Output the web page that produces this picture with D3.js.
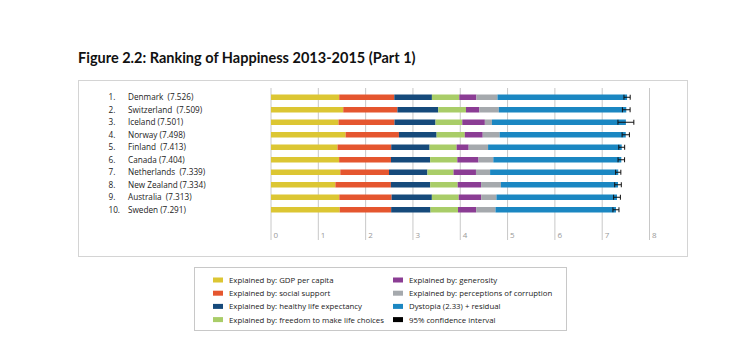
<!DOCTYPE html>
<html>
<head>
<meta charset="utf-8">
<script src="https://cdnjs.cloudflare.com/ajax/libs/d3/7.8.5/d3.min.js"></script>
<style>
  body { margin: 0; background: #fff; }
  svg { display: block; font-family: "Open Sans", Lato, sans-serif; }
</style>
</head>
<body>
<div id="chart"></div>
<script>
// data (World Happiness Report 2016, fig 2.2 part 1)
var countries = ["Denmark", "Switzerland", "Iceland", "Norway", "Finland",
                 "Canada", "Netherlands", "New Zealand", "Australia", "Sweden"];
var scores = [7.526, 7.509, 7.501, 7.498, 7.413, 7.404, 7.339, 7.334, 7.313, 7.291];
var gdp = [1.442, 1.527, 1.427, 1.577, 1.406, 1.440, 1.465, 1.361, 1.444, 1.452];
var social = [1.164, 1.145, 1.183, 1.127, 1.135, 1.096, 1.029, 1.173, 1.105, 1.088];
var health = [0.795, 0.863, 0.867, 0.796, 0.811, 0.828, 0.812, 0.831, 0.851, 0.831];
var freedom = [0.579, 0.586, 0.566, 0.596, 0.571, 0.574, 0.552, 0.581, 0.568, 0.582];
var generosity = [0.362, 0.281, 0.477, 0.379, 0.255, 0.448, 0.474, 0.494, 0.474, 0.383];
var corruption = [0.445, 0.412, 0.150, 0.358, 0.410, 0.313, 0.299, 0.419, 0.323, 0.409];
var ciLow = [7.460, 7.428, 7.333, 7.421, 7.351, 7.335, 7.284, 7.264, 7.241, 7.227];
var ciHigh = [7.592, 7.590, 7.669, 7.575, 7.475, 7.473, 7.394, 7.404, 7.385, 7.355];
var ticks = [0, 1, 2, 3, 4, 5, 6, 7, 8];
// gap between name and score as printed (some have two spaces)
var gaps = ["  ", "  ", " ", " ", "  ", " ", "  ", " ", "  ", " "];

var seriesNames = ["Explained by: GDP per capita", "Explained by: social support",
  "Explained by: healthy life expectancy", "Explained by: freedom to make life choices",
  "Explained by: generosity", "Explained by: perceptions of corruption",
  "Dystopia (2.33) + residual", "95% confidence interval"];
var colors = ["#dcc633", "#e5562f", "#164a7b", "#a9cd68", "#8b3d94", "#a5a9ad", "#1b87c2", "#000"];

var width = 751, height = 362;

var svg = d3.select("#chart").append("svg")
    .attr("width", width)
    .attr("height", height);

// title
svg.append("text")
    .attr("x", 78)
    .attr("y", 63)
    .style("font-family", "Lato, sans-serif")
    .style("font-size", "14.5px")
    .style("font-weight", "700")
    .style("fill", "#111")
    .text("Figure 2.2: Ranking of Happiness 2013-2015 (Part 1)");

// chart frame
svg.append("rect")
    .attr("x", 78.5).attr("y", 80.5)
    .attr("width", 609).attr("height", 176)
    .style("fill", "none")
    .style("stroke", "#d4d4d4");

var x = d3.scaleLinear().domain([0, 8]).range([271, 649.5]);
var y = d3.scaleBand().domain(d3.range(countries.length)).range([91, 216]);

// grid + ticks
var grid = svg.append("g");
grid.selectAll("line")
    .data(ticks)
    .enter()
    .append("line")
    .attr("x1", d => x(d)).attr("x2", d => x(d))
    .attr("y1", 88).attr("y2", 240)
    .style("stroke", "#c8c8c8")
    .style("stroke-width", 1);
grid.selectAll("text")
    .data(ticks)
    .enter()
    .append("text")
    .attr("x", d => x(d) + 2.5)
    .attr("y", 238)
    .style("font-size", "8px")
    .style("fill", "#999")
    .text(d => d);

// stacked bars
var rows = countries.map(function(c, i) {
    var parts = [gdp[i], social[i], health[i], freedom[i], generosity[i], corruption[i]];
    var rest = scores[i] - d3.sum(parts);
    parts.push(rest);
    var acc = 0;
    return parts.map(function(v, k) {
        var seg = { row: i, k: k, x0: acc, x1: acc + v };
        acc += v;
        return seg;
    });
});

var barH = 5.5;
svg.append("g")
    .selectAll("rect")
    .data(rows.flat())
    .enter()
    .append("rect")
    .attr("x", d => x(d.x0))
    .attr("width", d => x(d.x1) - x(d.x0))
    .attr("y", d => y(d.row) + y.bandwidth() / 2 - barH / 2)
    .attr("height", barH)
    .style("fill", d => colors[d.k]);

// confidence intervals
var ci = svg.append("g").selectAll("g")
    .data(countries)
    .enter()
    .append("g")
    .attr("transform", (d, i) => "translate(0," + (y(i) + y.bandwidth() / 2) + ")");
ci.append("line")
    .attr("x1", (d, i) => x(ciLow[i])).attr("x2", (d, i) => x(ciHigh[i]))
    .attr("y1", 0).attr("y2", 0)
    .style("stroke", "#111").style("stroke-width", 1);
ci.append("line")
    .attr("x1", (d, i) => x(ciLow[i])).attr("x2", (d, i) => x(ciLow[i]))
    .attr("y1", -2.5).attr("y2", 2.5)
    .style("stroke", "#111").style("stroke-width", 1);
ci.append("line")
    .attr("x1", (d, i) => x(ciHigh[i])).attr("x2", (d, i) => x(ciHigh[i]))
    .attr("y1", -2.5).attr("y2", 2.5)
    .style("stroke", "#111").style("stroke-width", 1);

// row labels
var labels = svg.append("g").selectAll("g")
    .data(countries)
    .enter()
    .append("g")
    .attr("transform", (d, i) => "translate(0," + (y(i) + y.bandwidth() / 2 + 3) + ")")
    .style("font-size", "8.2px")
    .style("fill", "#222");
labels.append("text")
    .attr("x", 108.5)
    .text((d, i) => (i + 1) + ".");
labels.append("text")
    .attr("x", 128)
    .style("white-space", "pre")
    .text((d, i) => d + gaps[i] + "(" + scores[i].toFixed(3) + ")");

// legend
svg.append("rect")
    .attr("x", 194.5).attr("y", 267.5)
    .attr("width", 372).attr("height", 63)
    .style("fill", "none")
    .style("stroke", "#c8c8c8");

var leg = svg.append("g").selectAll("g")
    .data(seriesNames)
    .enter()
    .append("g")
    .attr("transform", function(d, i) {
        var col = Math.floor(i / 4), row = i % 4;
        return "translate(" + (213 + col * 180) + "," + (280 + row * 13.2) + ")";
    });
leg.append("rect")
    .attr("x", 0).attr("y", -2.5)
    .attr("width", 10).attr("height", 5)
    .style("fill", (d, i) => colors[i]);
leg.append("text")
    .attr("x", 16).attr("y", 3)
    .style("font-size", "7.8px")
    .style("fill", "#222")
    .text(d => d);
</script>
</body>
</html>
